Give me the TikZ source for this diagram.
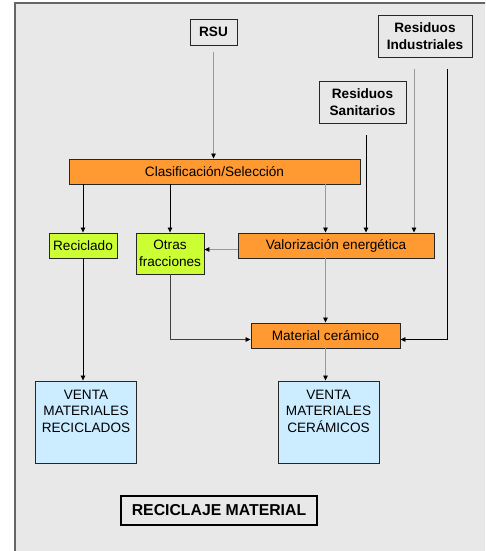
\documentclass[tikz,border=0pt]{standalone}
\usepackage{fontspec}
\setmainfont{Liberation Sans}
\usetikzlibrary{arrows.meta}
\definecolor{panelgray}{HTML}{E8E8E8}
\definecolor{boxorange}{HTML}{FF9A33}
\definecolor{boxgreen}{HTML}{CCFF33}
\definecolor{boxblue}{HTML}{CCECFF}
\definecolor{linegray}{HTML}{999999}
\tikzset{every node/.style = {font=\fontsize{13.6}{16.5}\selectfont}}
\tikzset{box/.style = {draw=black!85, line width=0.9pt, inner sep=0pt, align=center}}
\tikzset{source/.style = {box, font=\fontsize{13.6}{16.5}\selectfont\bfseries}}
\tikzset{process/.style = {box, fill=boxorange}}
\tikzset{branch/.style = {box, fill=boxgreen}}
\tikzset{sale/.style = {box, fill=boxblue, minimum width=101pt, minimum height=82pt}}
\tikzset{flow/.style = {-{Triangle[length=5pt, width=4.5pt, color=black]}, line width=0.8pt, draw=black}}
\tikzset{grayflow/.style = {flow, draw=linegray}}
\tikzset{darkflow/.style = {flow, draw=black!75}}

\begin{document}
\begin{tikzpicture}[x=1pt, y=-1pt]
    \clip (0,0) rectangle (485,551);
    \fill [panelgray] (15,3) rectangle (495,560);
    \draw [black!60, line width=1.6pt] (15,560) -- (15,3) -- (495,3);

    \node [source, minimum width=47pt, minimum height=26pt] (rsu) at (213.5,32) {RSU};
    \node [source, minimum width=94pt, minimum height=42pt] (ind) at (425,36) {Residuos\\Industriales};
    \node [source, minimum width=87pt, minimum height=42pt] (san) at (362.5,102) {Residuos\\Sanitarios};

    \node [process, minimum width=291pt, minimum height=25pt] (clasif) at (214.5,171.5) {Clasificación/Selección};
    \node [branch, minimum width=68pt, minimum height=25pt] (reci) at (83,245.5) {Reciclado};
    \node [branch, minimum width=68pt, minimum height=41pt] (otras) at (170,253.5) {Otras\\fracciones};
    \node [process, minimum width=196pt, minimum height=25pt] (valor) at (336,245.5) {Valorización energética};
    \node [process, minimum width=149pt, minimum height=25pt] (matc) at (325.5,335.5) {Material cerámico};

    \node [sale] (vrec) at (86,422) {};
    \node [anchor=north, align=center, inner sep=0pt] (vrec-txt) at ([yshift=-9pt]vrec.north) {VENTA\\MATERIALES\\RECICLADOS};
    \node [sale] (vcer) at (328.5,422) {};
    \node [anchor=north, align=center, inner sep=0pt] (vcer-txt) at ([yshift=-9pt]vcer.north) {VENTA\\MATERIALES\\CERÁMICOS};

    \node [box, line width=1.6pt, draw=black, minimum width=196pt, minimum height=29pt,
           font=\fontsize{15.8}{18}\selectfont\bfseries] (titulo) at (219,510.5) {RECICLAJE MATERIAL};

    \coordinate (san-out) at (366,135);
    \coordinate (ind-a) at (414,69);
    \coordinate (ind-b) at (447,69);

    \draw [grayflow, shorten <=7pt] (rsu.south) -- (rsu.south |- clasif.north);
    \draw [flow] (reci.north |- clasif.south) -- (reci.north);
    \draw [flow] (otras.north |- clasif.south) -- (otras.north);
    \draw [grayflow] (clasif.south -| matc.north) -- (matc.north |- valor.north);
    \draw [flow] (san-out) -- (san-out |- valor.north);
    \draw [grayflow] (ind-a) -- (ind-a |- valor.north);
    \draw [flow] (ind-b) |- ([yshift=-4pt]matc.east);
    \draw [grayflow] ([yshift=-4pt]valor.west) -- ([yshift=-4pt]valor.west -| otras.east);
    \draw [grayflow] (valor.south -| matc.north) -- (matc.north);
    \draw [darkflow] (otras.south) |- ([yshift=-4pt]matc.west);
    \draw [grayflow] (matc.south) -- (matc.south |- vcer.north);
    \draw [flow] (reci.south) -- (reci.south |- vrec.north);
  \end{tikzpicture}
\end{document}
